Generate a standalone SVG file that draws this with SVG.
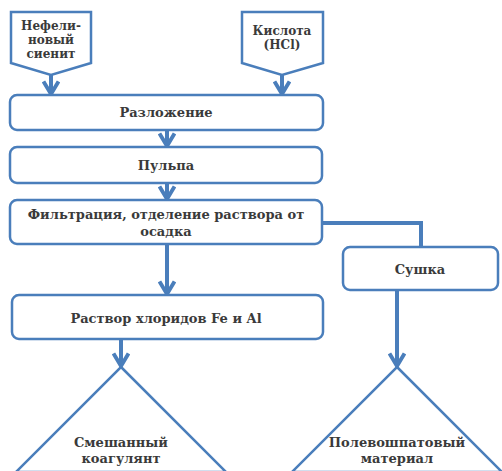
<svg xmlns="http://www.w3.org/2000/svg" width="502" height="471" viewBox="0 0 502 471">
<defs>
<style>
.box{fill:#fff;stroke:#4a7ebb;stroke-width:2.5}
.con{fill:none;stroke:#4a7ebb;stroke-width:4}
.s{font-size:12px}
</style>
<marker id="ah" viewBox="0 0 10 10" refX="8.5" refY="5" markerWidth="4.5" markerHeight="4.5" orient="auto" markerUnits="strokeWidth">
<path d="M1.5,0.8 L8.5,5 L1.5,9.2" fill="none" stroke="#4a7ebb" stroke-width="2.2"/>
</marker>
</defs>
<rect width="502" height="471" fill="#fff"/>
<g id="connectors">
<line class="con" x1="51" y1="75" x2="51" y2="94" marker-end="url(#ah)"/>
<line class="con" x1="282" y1="75" x2="282" y2="94" marker-end="url(#ah)"/>
<line class="con" x1="167" y1="130" x2="167" y2="146" marker-end="url(#ah)"/>
<line class="con" x1="167" y1="183" x2="167" y2="199" marker-end="url(#ah)"/>
<line class="con" x1="167" y1="244" x2="167" y2="294" marker-end="url(#ah)"/>
<polyline class="con" points="322,223 421,223 421,247"/>
<line class="con" x1="121" y1="339" x2="121" y2="366" marker-end="url(#ah)"/>
<line class="con" x1="397" y1="290" x2="397" y2="366" marker-end="url(#ah)"/>
</g>
<g font-family="'DejaVu Serif', serif" font-size="13" font-weight="bold" fill="#3a3a3a" text-anchor="middle">
<g id="n1">
<path class="box" d="M11,12 H91 V63 L51,75 L11,63 Z"/>
<text class="s" x="51" y="30">Нефели-</text>
<text class="s" x="51" y="44">новый</text>
<text class="s" x="51" y="58">сиенит</text>
</g>
<g id="n2">
<path class="box" d="M242,12 H323 V63 L282,75 L242,63 Z"/>
<text class="s" x="282" y="35">Кислота</text>
<text class="s" x="282" y="49">(HCl)</text>
</g>
<g id="n3">
<rect class="box" x="10" y="95" width="313" height="35" rx="7"/>
<text x="166" y="117">Разложение</text>
</g>
<g id="n4">
<rect class="box" x="10" y="147" width="312" height="36" rx="7"/>
<text x="166" y="170">Пульпа</text>
</g>
<g id="n5">
<rect class="box" x="10" y="200" width="312" height="44" rx="7"/>
<text x="166" y="219">Фильтрация, отделение раствора от</text>
<text x="166" y="236">осадка</text>
</g>
<g id="n6">
<rect class="box" x="343" y="247" width="155" height="43" rx="7"/>
<text x="420" y="274">Сушка</text>
</g>
<g id="n7">
<rect class="box" x="12" y="295" width="311" height="44" rx="7"/>
<text x="166" y="323">Раствор хлоридов Fe и Al</text>
</g>
<g id="n8">
<path class="box" d="M121,367 L226,472 L16,472 Z"/>
<text x="121" y="447">Смешанный</text>
<text x="121" y="463">коагулянт</text>
</g>
<g id="n9">
<path class="box" d="M397,367 L502,472 L292,472 Z"/>
<text x="397" y="447">Полевошпатовый</text>
<text x="397" y="463">материал</text>
</g>
</g>
</svg>
